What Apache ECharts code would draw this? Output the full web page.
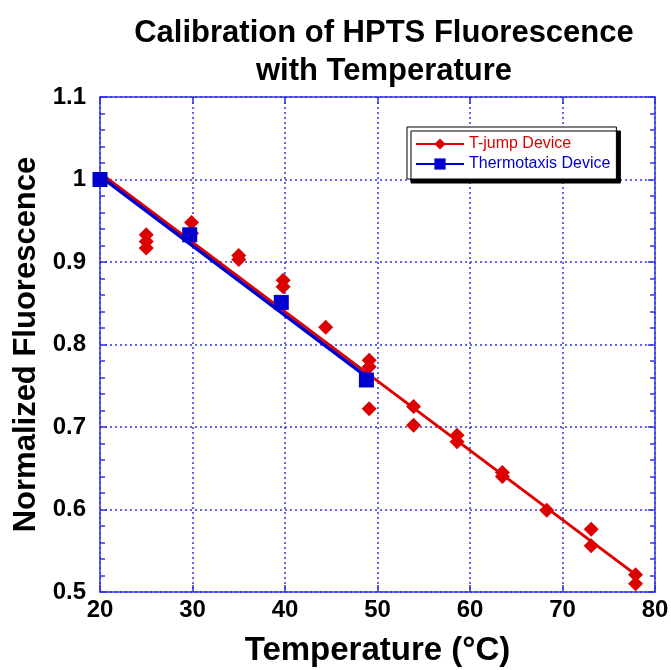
<!DOCTYPE html>
<html>
<head>
<meta charset="utf-8">
<script src="https://cdn.jsdelivr.net/npm/echarts@6/dist/echarts.min.js"></script>
<style>html,body{margin:0;padding:0;background:#fff}#c{width:671px;height:670px}</style>
</head>
<body>
<div id="c"></div>
<script>
var tjumpTemp  = [20, 25, 25, 25, 29.9, 29.9, 35, 35, 39.8, 39.8, 44.4, 49.1, 49.1, 49.1, 53.9, 53.9, 58.6, 58.6, 63.5, 63.5, 68.3, 73.1, 73.1, 77.9, 77.9];
var tjumpFluor = [1.0, 0.933, 0.925, 0.917, 0.948, 0.935, 0.908, 0.903, 0.878, 0.870, 0.821, 0.781, 0.773, 0.722, 0.725, 0.702, 0.690, 0.682, 0.645, 0.640, 0.599, 0.576, 0.556, 0.521, 0.510];
var thermoTemp  = [20, 29.7, 39.6, 48.8];
var thermoFluor = [1.0, 0.933, 0.851, 0.757];
var tjumpFitX = [20, 77.8];
var tjumpFitY = [1.008, 0.522];
var thermoFitX = [20, 48.8];
var thermoFitY = [1.004, 0.761];
var xTicks = [20, 30, 40, 50, 60, 70, 80];
var yTicks = [0.5, 0.6, 0.7, 0.8, 0.9, 1.0, 1.1];

function zip(a, b) { return a.map(function (v, i) { return [v, b[i]]; }); }

var RED = '#dd0000', BLUE = '#0000cc', FRAME = '#3333e6';
var FONT = '"Liberation Sans", Arial, sans-serif';

var chart = echarts.init(document.getElementById('c'));
var axisCommon = {
  type: 'value',
  axisLine: { show: true, lineStyle: { color: FRAME, width: 1.5 } },
  axisTick: { show: true, inside: true, length: 7, lineStyle: { color: FRAME, width: 1.5 } }
};
chart.setOption({
  animation: false,
  title: {
    text: 'Calibration of HPTS Fluorescence\nwith Temperature',
    left: 379, top: 9, textAlign: 'center',
    textStyle: { fontFamily: FONT, fontWeight: 'bold', fontSize: 31, color: '#000', lineHeight: 38 }
  },
  grid: { left: 100, right: 16, top: 97, bottom: 78, containLabel: false, outerBoundsMode: 'none' },
  legend: {
    orient: 'vertical', left: 407, top: 127,
    padding: [9, 6, 7, 8],
    itemWidth: 48, itemHeight: 14, itemGap: 4,
    backgroundColor: '#fff', borderColor: '#000', borderWidth: 1,
    shadowColor: '#000', shadowOffsetX: 4, shadowOffsetY: 4, shadowBlur: 0.01,
    data: [
      { name: 'T-jump Device', textStyle: { color: RED } },
      { name: 'Thermotaxis Device', textStyle: { color: BLUE } }
    ],
    textStyle: { fontFamily: FONT, fontSize: 16 }
  },
  xAxis: [
    Object.assign({}, axisCommon, {
      position: 'bottom', min: xTicks[0], max: xTicks[xTicks.length - 1], interval: 10,
      name: 'Temperature (°C)', nameLocation: 'middle', nameGap: 42,
      nameTextStyle: { fontFamily: FONT, fontWeight: 'bold', fontSize: 33, color: '#000' },
      axisLabel: { fontFamily: FONT, fontWeight: 'bold', fontSize: 24, color: '#000', margin: 6 },
      splitLine: { show: true, lineStyle: { color: FRAME, type: [2, 3], width: 1.5 } }
    }),
    Object.assign({}, axisCommon, {
      position: 'top', min: xTicks[0], max: xTicks[xTicks.length - 1], interval: 10,
      axisLabel: { show: false }, splitLine: { show: false }
    })
  ],
  yAxis: [
    Object.assign({}, axisCommon, {
      position: 'left', min: yTicks[0], max: yTicks[yTicks.length - 1], interval: 0.1,
      name: 'Normalized Fluorescence', nameLocation: 'middle', nameGap: 52,
      nameTextStyle: { fontFamily: FONT, fontWeight: 'bold', fontSize: 31, color: '#000' },
      axisLabel: { fontFamily: FONT, fontWeight: 'bold', fontSize: 24, color: '#000', margin: 14 },
      minorTick: { show: true, splitNumber: 5, length: 5, lineStyle: { color: FRAME, width: 1.5 } },
      splitLine: { show: true, lineStyle: { color: FRAME, type: [2, 3], width: 1.5 } }
    }),
    Object.assign({}, axisCommon, {
      position: 'right', min: yTicks[0], max: yTicks[yTicks.length - 1], interval: 0.1,
      axisLabel: { show: false }, splitLine: { show: false },
      minorTick: { show: true, splitNumber: 5, length: 5, lineStyle: { color: FRAME, width: 1.5 } }
    })
  ],
  series: [
    {
      name: 'T-jump Device', type: 'line', data: zip(tjumpFitX, tjumpFitY),
      symbol: 'diamond', showSymbol: false, color: RED,
      lineStyle: { color: RED, width: 3 }, z: 2
    },
    {
      name: 'Thermotaxis Device', type: 'line', data: zip(thermoFitX, thermoFitY),
      symbol: 'rect', showSymbol: false, color: BLUE,
      lineStyle: { color: BLUE, width: 3.5 }, z: 3
    },
    {
      name: 'T-jump points', type: 'scatter', data: zip(tjumpTemp, tjumpFluor),
      symbol: 'diamond', symbolSize: 15, itemStyle: { color: RED, opacity: 1 }, z: 4
    },
    {
      name: 'Thermotaxis points', type: 'scatter', data: zip(thermoTemp, thermoFluor),
      symbol: 'rect', symbolSize: 15, itemStyle: { color: BLUE, opacity: 1 }, z: 5
    }
  ]
});
</script>
</body>
</html>
